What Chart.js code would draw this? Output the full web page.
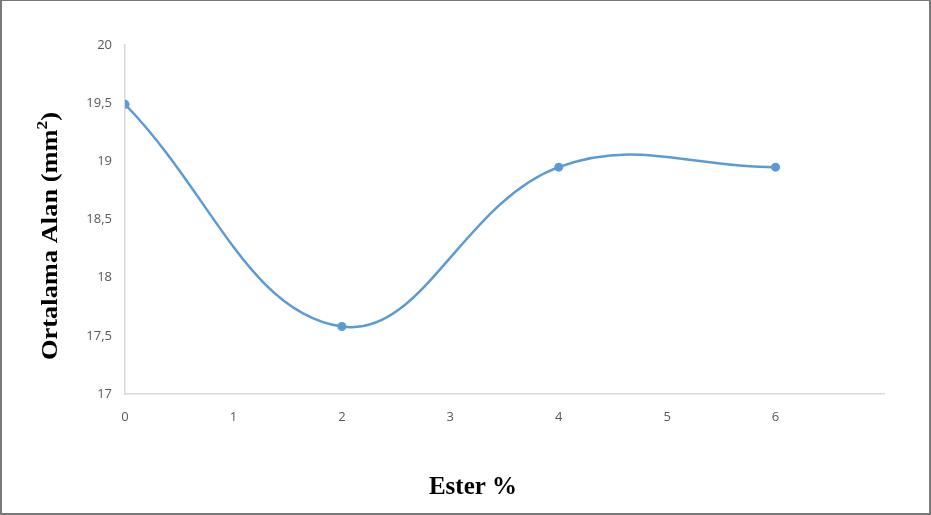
<!DOCTYPE html>
<html>
<head>
<meta charset="utf-8">
<script src="https://cdn.jsdelivr.net/npm/chart.js@4"></script>
<style>
    html, body { margin: 0; padding: 0; background: #fff; }
    #wrap { position: relative; width: 931px; height: 515px; box-sizing: border-box; border: 2px solid #7a7a7a; border-top-width: 1px; }
</style>
</head>
<body>
<div id="wrap"><canvas id="chart" width="927" height="512"></canvas></div>
<script>
// Ester percentage vs. mean area
const esterPct = [0, 2, 4, 6];
const meanArea = [19.49, 17.58, 18.95, 18.95];
const xTicks = [0, 1, 2, 3, 4, 5, 6, 7];
const yTicks = [17, 17.5, 18, 18.5, 19, 19.5, 20];

const xTitle = 'Ester %';
const yTitle = 'Ortalama Alan (mm';

const fmtComma = v => String(v).replace('.', ',');
const serif = '"Liberation Serif", "Times New Roman", serif';

// axis titles drawn by hand so the superscript and the offsets can be placed freely
const axisTitles = {
    id: 'axisTitles',
    afterDraw(chart) {
        const ctx = chart.ctx;
        ctx.save();
        ctx.fillStyle = '#000';
        ctx.font = 'bold 25px ' + serif;
        ctx.textAlign = 'center';
        ctx.textBaseline = 'alphabetic';
        ctx.fillText(xTitle, 471, 493);

        // rotated y title with superscript 2
        ctx.translate(55, 235);
        ctx.rotate(-Math.PI / 2);
        ctx.scale(1.15, 1);
        ctx.font = 'bold 23px ' + serif;
        const main = ctx.measureText(yTitle).width;
        ctx.font = 'bold 15px ' + serif;
        const sup = ctx.measureText('2').width;
        ctx.font = 'bold 23px ' + serif;
        const close = ctx.measureText(')').width;
        let x = -(main + sup + close) / 2;
        ctx.textAlign = 'left';
        ctx.fillText(yTitle, x, 0);
        x += main;
        ctx.font = 'bold 15px ' + serif;
        ctx.fillText('2', x, -10);
        x += sup;
        ctx.font = 'bold 23px ' + serif;
        ctx.fillText(')', x, 0);
        ctx.restore();
    }
};

new Chart(document.getElementById('chart'), {
    type: 'line',
    data: {
        datasets: [{
            data: esterPct.map((x, i) => ({ x, y: meanArea[i] })),
            borderColor: '#5b9bd5',
            backgroundColor: '#5b9bd5',
            borderWidth: 2.5,
            pointRadius: 4.5,
            pointBorderWidth: 0,
            tension: 0.4,
            fill: false
        }]
    },
    options: {
        responsive: false,
        animation: false,
        layout: { padding: { top: 44, right: 45, bottom: 0, left: 0 } },
        plugins: { legend: { display: false }, tooltip: { enabled: false } },
        scales: {
            x: {
                type: 'linear',
                min: 0,
                max: 7,
                afterBuildTicks: axis => { axis.ticks = xTicks.map(v => ({ value: v })); },
                afterFit: axis => { axis.height = 119; },
                grid: { display: false, drawTicks: false },
                border: { display: true, color: '#d9d9d9', width: 1.5 },
                ticks: {
                    color: '#595959',
                    padding: 15,
                    font: { family: '"Open Sans", sans-serif', size: 13 },
                    callback: v => (v === 7 ? '' : v)
                }
            },
            y: {
                min: 17,
                max: 20,
                afterBuildTicks: axis => { axis.ticks = yTicks.map(v => ({ value: v })); },
                afterFit: axis => { axis.width = 123; },
                grid: { display: false, drawTicks: false },
                border: { display: true, color: '#d9d9d9', width: 1.5 },
                ticks: {
                    color: '#595959',
                    padding: 13,
                    font: { family: '"Open Sans", sans-serif', size: 13 },
                    callback: v => fmtComma(v)
                }
            }
        }
    },
    plugins: [axisTitles]
});
</script>
</body>
</html>
